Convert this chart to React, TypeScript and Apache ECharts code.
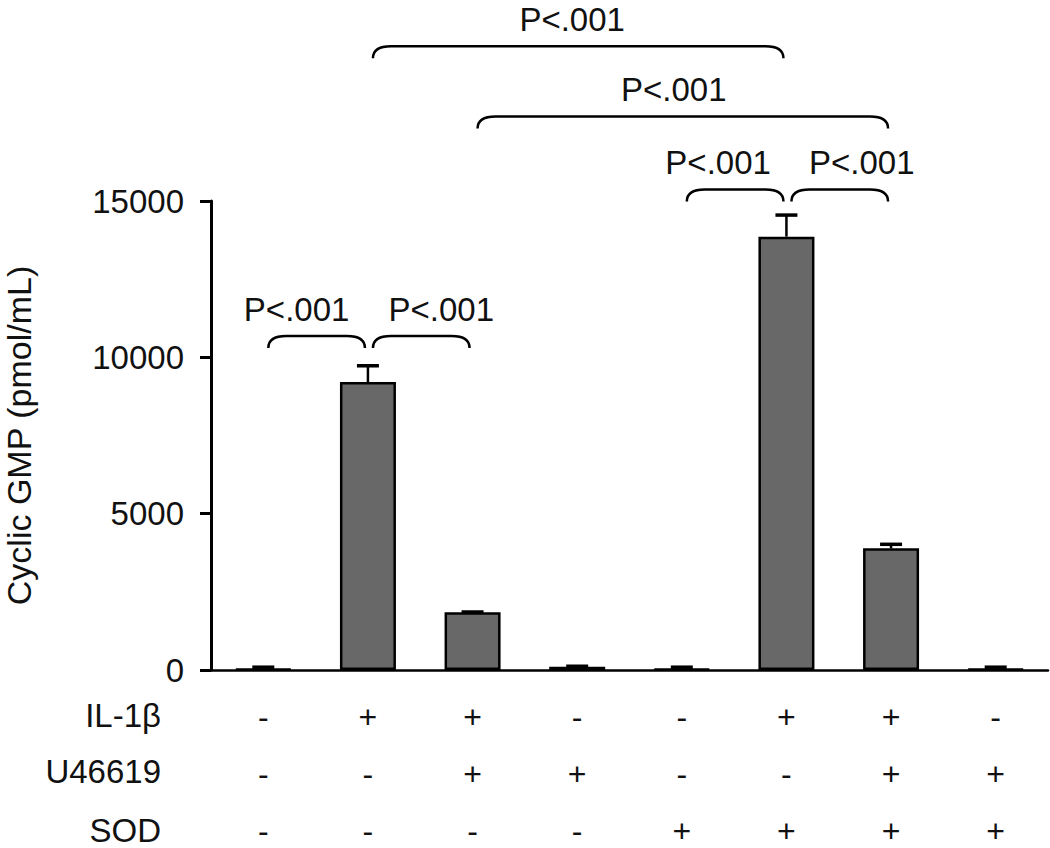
import React, { useEffect, useRef } from "react";
import * as echarts from "echarts";

const categories = ["G1", "G2", "G3", "G4", "G5", "G6", "G7", "G8"];
const cgmpMean = [30, 9210, 1845, 100, 30, 13860, 3890, 30];
const cgmpError = [60, 520, 10, 20, 60, 690, 130, 60];
const il1bRow = ["-", "+", "+", "-", "-", "+", "+", "-"];
const u46619Row = ["-", "-", "+", "+", "-", "-", "+", "+"];
const sodRow = ["-", "-", "-", "-", "+", "+", "+", "+"];
const rowNames = ["IL-1\u03b2", "U46619", "SOD"];
const yTicks = [0, 5000, 10000, 15000];

const bracketFrom = [0, 1, 4, 5, 1, 2];
const bracketTo = [1, 2, 5, 6, 5, 6];
const bracketLevel = [10680, 10680, 15370, 15370, 19950, 17700];
const bracketLabel = ["P<.001", "P<.001", "P<.001", "P<.001", "P<.001", "P<.001"];

const FONT = "'Liberation Sans', Arial, Helvetica, sans-serif";

export default function App() {
  const ref = useRef<HTMLDivElement>(null);
  useEffect(() => {
    if (!ref.current) return;
    const chart = echarts.init(ref.current, null, { renderer: "svg" });
    const labelShift = [-20, 20, -17, 22, -6, -9];

    const errData = cgmpMean.map((v, i) => [i, v, cgmpError[i]]);
    const bracketData = bracketFrom.map((a, k) => [a, bracketTo[k], bracketLevel[k], k]);

    const option: any = {
      animation: false,
      grid: { left: 211, right: 2, top: 201, bottom: 178, containLabel: false, outerBoundsMode: "none" },
      xAxis: {
        type: "category",
        data: categories,
        axisLine: { show: true, lineStyle: { color: "#000", width: 2.5 } },
        axisTick: { show: false },
        axisLabel: {
          interval: 0,
          margin: 18,
          fontSize: 32,
          lineHeight: 57,
          color: "#111",
          fontFamily: FONT,
          formatter: (_v: string, i: number) => `${il1bRow[i]}\n${u46619Row[i]}\n${sodRow[i]}`,
        },
      },
      yAxis: {
        type: "value",
        min: yTicks[0],
        max: yTicks[yTicks.length - 1],
        interval: yTicks[1] - yTicks[0],
        name: "Cyclic GMP (pmol/mL)",
        nameLocation: "middle",
        nameGap: 175,
        nameTextStyle: { fontSize: 34, color: "#111", fontFamily: FONT },
        axisLine: { show: true, lineStyle: { color: "#000", width: 3 } },
        axisTick: { show: true, inside: false, length: 11, lineStyle: { color: "#000", width: 3 } },
        axisLabel: {
          fontSize: 33,
          color: "#111",
          margin: 27,
          fontFamily: FONT,
          formatter: (v: number) => String(v),
        },
        splitLine: { show: false },
      },
      graphic: rowNames.map((t, k) => ({
        type: "text",
        right: 1050 - 161,
        top: [717, 773, 832][k] - 18,
        style: { text: t, fontSize: 33, fill: "#111", fontFamily: FONT },
      })),
      series: [
        {
          type: "bar",
          data: cgmpMean,
          barWidth: 56,
          itemStyle: { color: "#686868", borderColor: "#000", borderWidth: 2.5 },
          z: 2,
        },
        {
          type: "custom",
          data: errData,
          z: 3,
          clip: false,
          encode: { x: 0, y: 1 },
          renderItem: (_p: any, api: any) => {
            const i = api.value(0);
            const v = api.value(1);
            const e = api.value(2);
            const lo = api.coord([i, v]);
            const hi = api.coord([i, v + e]);
            const hw = 11;
            return {
              type: "group",
              children: [
                { type: "line", shape: { x1: lo[0], y1: lo[1], x2: hi[0], y2: hi[1] }, style: { stroke: "#000", lineWidth: 2.5 } },
                { type: "line", shape: { x1: hi[0] - hw, y1: hi[1], x2: hi[0] + hw, y2: hi[1] }, style: { stroke: "#000", lineWidth: 3.5 } },
              ],
            };
          },
        },
        {
          type: "custom",
          data: bracketData,
          z: 4,
          clip: false,
          encode: { x: 0, y: 2 },
          renderItem: (_p: any, api: any) => {
            const a = api.value(0);
            const b = api.value(1);
            const y = api.value(2);
            const k = api.value(3);
            const p1 = api.coord([a, y]);
            const p2 = api.coord([b, y]);
            const x1 = p1[0] + 5;
            const x2 = p2[0] - 3;
            const yy = p1[1];
            const d = 12;
            const r = 18;
            const path = `M${x1},${yy + d} Q${x1},${yy} ${x1 + r},${yy} L${x2 - r},${yy} Q${x2},${yy} ${x2},${yy + d}`;
            return {
              type: "group",
              children: [
                { type: "path", shape: { pathData: path }, style: { fill: "none", stroke: "#000", lineWidth: 2.5 } },
                {
                  type: "text",
                  style: {
                    text: bracketLabel[k],
                    x: (x1 + x2) / 2 + labelShift[k],
                    y: yy - 27,
                    align: "center",
                    verticalAlign: "middle",
                    fontSize: 33,
                    fontFamily: FONT,
                    fill: "#111",
                  },
                },
              ],
            };
          },
        },
      ],
    };
    chart.setOption(option);
    return () => chart.dispose();
  }, []);
  return <div ref={ref} style={{ position: "absolute", left: 0, top: 0, width: 1050, height: 848 }} />;
}
